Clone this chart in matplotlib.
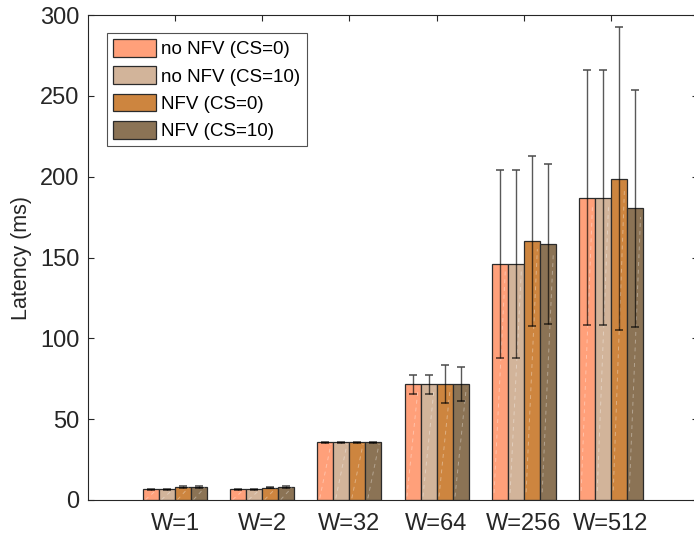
import numpy as np
import matplotlib.pyplot as plt
from matplotlib.patches import Patch

plt.rcParams['font.family'] = ['Liberation Sans', 'DejaVu Sans']

groups = ['W=1', 'W=2', 'W=32', 'W=64', 'W=256', 'W=512']
series = ['no NFV (CS=0)', 'no NFV (CS=10)', 'NFV (CS=0)', 'NFV (CS=10)']
colors = ['#FFA07A', '#D2B49A', '#CD853F', '#8B7355']

latency = np.array([
    [6.6, 6.6, 8.0, 8.0],
    [6.6, 6.6, 7.6, 8.0],
    [35.7, 35.7, 35.7, 35.7],
    [71.6, 71.6, 71.5, 71.5],
    [146.0, 146.0, 160.0, 158.2],
    [187.0, 187.0, 198.8, 180.4],
])
spread = np.array([
    [0.3, 0.3, 0.4, 0.4],
    [0.3, 0.3, 0.4, 0.4],
    [0.3, 0.3, 0.3, 0.3],
    [6.0, 6.0, 11.7, 10.5],
    [58.0, 58.0, 52.6, 49.6],
    [79.0, 79.0, 93.8, 73.4],
])

fig = plt.figure(figsize=(6.94, 5.41), dpi=100)
ax = fig.add_axes([88 / 694, 41 / 541, 610 / 694, 485 / 541])

x = np.arange(1, len(groups) + 1)
bw = 0.184
offsets = (np.arange(len(series)) - 1.5) * bw

for j, (name, c) in enumerate(zip(series, colors)):
    xs = x + offsets[j]
    bars = ax.bar(xs, latency[:, j], width=bw, color=c, edgecolor='#2b2b2b',
                  linewidth=0.9, label=name, zorder=2)
    # faint diagonal streak across each bar face
    for b in bars:
        x0, w, h = b.get_x(), b.get_width(), b.get_height()
        ax.plot([x0 + 0.15 * w, x0 + 0.85 * w], [0.03 * h, 0.97 * h],
                color='white', lw=0.7, ls=(0, (4, 4)), alpha=0.35, zorder=2.5)
    ax.errorbar(xs, latency[:, j], yerr=spread[:, j], fmt='none',
                ecolor='black', elinewidth=1.0, capsize=2.8, capthick=1.2,
                alpha=0.65, zorder=3)

ax.set_xlim(0, 7)
ax.set_ylim(0, 300)
ax.set_xticks(x)
ax.set_xticklabels(groups)
ax.set_yticks(np.arange(0, 301, 50))
ax.set_ylabel('Latency (ms)', fontsize=15.5, color='#262626', labelpad=6)
ax.tick_params(direction='in', top=True, right=True, labelsize=17,
               colors='#262626', length=4)
ax.tick_params(axis='x', pad=9)
ax.tick_params(axis='y', pad=6)
for s in ax.spines.values():
    s.set_color('#262626')
    s.set_linewidth(0.8)

handles = [Patch(facecolor=c, edgecolor='#2b2b2b', linewidth=0.9) for c in colors]
leg = ax.legend(handles, series, loc='upper left', bbox_to_anchor=(0.031, 0.963),
                fontsize=13.5, frameon=True, fancybox=False, edgecolor='#262626',
                handlelength=2.3, handleheight=1.07, handletextpad=0.27,
                labelspacing=0.43, borderpad=0.33, borderaxespad=0)
leg.get_frame().set_linewidth(0.8)

fig.savefig('out.png', dpi=100)
